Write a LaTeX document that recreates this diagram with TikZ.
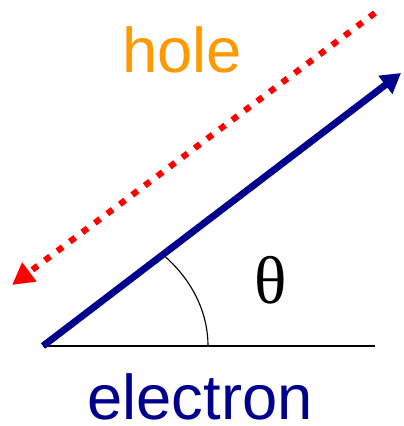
\documentclass[tikz,border=0pt]{standalone}
\usepackage{fontspec}
\setmainfont{Liberation Sans}
\newfontfamily\thetafont{Liberation Serif}
\usetikzlibrary{arrows.meta}
\definecolor{holeorange}{RGB}{255,153,0}
\definecolor{elecnavy}{RGB}{0,0,140}
\begin{document}
\begin{tikzpicture}[x=0.025cm, y=0.025cm]
  \useasboundingbox (0,0) rectangle (403,426);
  \coordinate (O) at (43,80);
  \coordinate (R) at (375,80);
  \coordinate (E) at (401,353);
  \coordinate (Hs) at (375,413);
  \coordinate (Ht) at (12,141);
  \draw[line width=1.5pt] (O) -- (R);
  \draw[line width=0.8pt] (208,80) arc[start angle=0, end angle=43.3, x radius=165, y radius=133];
  \draw[elecnavy, line width=4.9pt, -{Triangle[length=14pt, width=15.5pt]}] (O) -- (E);
  \draw[red, line width=4.4pt, dash pattern=on 4.8pt off 6.3pt, -{Triangle[length=15.5pt, width=16pt]}] (Hs) -- (Ht);
  \node[holeorange, anchor=base, inner sep=0pt, font=\fontsize{45}{50}\selectfont] (hole) at (182,353) {hole};
  \node[elecnavy, anchor=base, inner sep=0pt, font=\fontsize{45}{50}\selectfont] (electron) at (200,7) {electron};
  \node[inner sep=0pt, font=\fontsize{48}{54}\selectfont\thetafont] (theta) at (271,146) {θ};
\end{tikzpicture}
\end{document}
